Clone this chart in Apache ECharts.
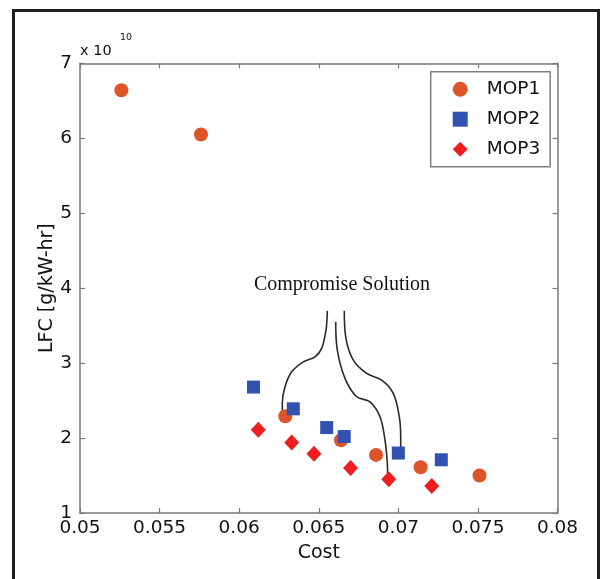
<!DOCTYPE html>
<html>
<head>
<meta charset="utf-8">
<script src="https://cdn.jsdelivr.net/npm/echarts@6/dist/echarts.min.js"></script>
<style>
html,body{margin:0;padding:0;background:#fff;}
#chart{width:601px;height:579px;}
</style>
</head>
<body>
<div id="chart"></div>
<script>
// ---- data (LFC in units of 1e10 g/kW-hr) ----
var seriesNames = ['MOP1', 'MOP2', 'MOP3'];
var mop1Cost = [0.0526, 0.0576, 0.0629, 0.0664, 0.0686, 0.0714, 0.0751];
var mop1LFC  = [6.64, 6.05, 2.29, 1.97, 1.775, 1.61, 1.50];
var mop2Cost = [0.0609, 0.0634, 0.0655, 0.0666, 0.0700, 0.0727];
var mop2LFC  = [2.68, 2.39, 2.14, 2.02, 1.80, 1.71];
var mop3Cost = [0.0612, 0.0633, 0.0647, 0.0670, 0.0694, 0.0721];
var mop3LFC  = [2.11, 1.94, 1.79, 1.60, 1.45, 1.36];
var xTickLabels = ['0.05', '0.055', '0.06', '0.065', '0.07', '0.075', '0.08'];
var yTickLabels = ['1', '2', '3', '4', '5', '6', '7'];
var annotationText = 'Compromise Solution';
// annotation leader curves, in data coordinates [cost, LFC]
var leader1 = [[0.06554,3.697],[0.065455,3.44],[0.065185,3.196],[0.064764,3.084],[0.064029,3.017],[0.0633,2.884],[0.06288,2.684],[0.06271,2.463],[0.06271,2.351]];
var leader2 = [[0.066065,3.551],[0.066166,3.173],[0.066649,2.796],[0.067384,2.551],[0.06822,2.484],[0.068848,2.284],[0.069162,1.973],[0.069307,1.663],[0.069332,1.417]];
var leader3 = [[0.066605,3.697],[0.066693,3.351],[0.067171,3.04],[0.068013,2.863],[0.068955,2.773],[0.069684,2.596],[0.070061,2.284],[0.070149,2.017],[0.070149,1.84]];

function zip(a, b) { return a.map(function (v, i) { return [v, b[i]]; }); }

var FONT = 'DejaVu Sans, Verdana, sans-serif';
var axisCol = '#7a7a7a';
var txtCol = '#111111';
var xMin = 0.05, xMax = 0.08, xInt = 0.005;
var yMin = 1, yMax = 7, yInt = 1;

function xFmt(v) { var i = Math.round((v - xMin) / xInt); return xTickLabels[i] || ''; }
function yFmt(v) { var i = Math.round((v - yMin) / yInt); return yTickLabels[i] || ''; }

var baseAxis = {
  axisLine: { show: true, onZero: false, lineStyle: { color: axisCol, width: 1.5 } },
  axisTick: { show: true, inside: true, length: 5, lineStyle: { color: axisCol, width: 1.2 } },
  splitLine: { show: false }
};

function leaderSeries(pts) {
  return {
    type: 'line', data: pts, smooth: 0.35, symbol: 'none', silent: true,
    lineStyle: { color: '#2a2a2a', width: 1.6 }, z: 1, legendHoverLink: false
  };
}

var chart = echarts.init(document.getElementById('chart'), null, { renderer: 'canvas' });
chart.setOption({
  animation: false,
  backgroundColor: '#ffffff',
  grid: { left: 80, top: 63.3, right: 43.5, bottom: 66, containLabel: false },
  xAxis: [
    Object.assign({}, baseAxis, {
      type: 'value', min: xMin, max: xMax, interval: xInt, position: 'bottom',
      name: 'Cost', nameLocation: 'middle', nameGap: 30.5, nameMoveOverlap: false,
      nameTextStyle: { fontFamily: FONT, fontSize: 19, color: txtCol },
      axisLabel: { formatter: xFmt, fontFamily: FONT, fontSize: 18.5, color: txtCol, margin: 6 }
    }),
    Object.assign({}, baseAxis, {
      type: 'value', min: xMin, max: xMax, interval: xInt, position: 'top',
      axisLabel: { show: false }
    })
  ],
  yAxis: [
    Object.assign({}, baseAxis, {
      type: 'value', min: yMin, max: yMax, interval: yInt, position: 'left',
      name: 'LFC [g/kW-hr]', nameLocation: 'middle', nameGap: 23.5, nameMoveOverlap: false,
      nameTextStyle: { fontFamily: FONT, fontSize: 19, color: txtCol },
      axisLabel: { formatter: yFmt, fontFamily: FONT, fontSize: 18.5, color: txtCol, margin: 8 }
    }),
    Object.assign({}, baseAxis, {
      type: 'value', min: yMin, max: yMax, interval: yInt, position: 'right',
      axisLabel: { show: false }
    })
  ],
  legend: {
    data: seriesNames,
    orient: 'vertical',
    left: 430.7, top: 71.7,
    padding: [8, 10, 8, 22],
    itemWidth: 15, itemHeight: 15, itemGap: 11,
    borderColor: '#808080', borderWidth: 1.5,
    backgroundColor: '#ffffff',
    textStyle: { fontFamily: FONT, fontSize: 18.5, color: txtCol, lineHeight: 15, padding: [0, 0, 0, 14] }
  },
  series: [
    { name: 'MOP1', type: 'scatter', data: zip(mop1Cost, mop1LFC), symbol: 'circle', symbolSize: 14,
      itemStyle: { color: '#DD5428', opacity: 1 }, z: 3 },
    { name: 'MOP2', type: 'scatter', data: zip(mop2Cost, mop2LFC), symbol: 'rect', symbolSize: 13,
      itemStyle: { color: '#3152B0', opacity: 1 }, z: 4 },
    { name: 'MOP3', type: 'scatter', data: zip(mop3Cost, mop3LFC), symbol: 'diamond', symbolSize: [15, 16],
      itemStyle: { color: '#EE1E1E', opacity: 1 }, z: 3 },
    leaderSeries(leader1),
    leaderSeries(leader2),
    leaderSeries(leader3)
  ],
  graphic: [
    { type: 'rect', shape: { x: 13.5, y: 10.5, width: 585, height: 620 },
      style: { fill: 'none', stroke: '#1e1e1e', lineWidth: 3 }, silent: true, z: 10 },
    { type: 'text', x: 80, y: 59,
      style: { text: 'x 10', fontFamily: FONT, fontSize: 14.5, fill: txtCol, verticalAlign: 'bottom' }, silent: true },
    { type: 'text', x: 120, y: 33,
      style: { text: '10', fontFamily: FONT, fontSize: 9.5, fill: txtCol, verticalAlign: 'top' }, silent: true },
    { type: 'text', x: 342, y: 285,
      style: { text: annotationText, fontFamily: 'Liberation Serif, Times New Roman, serif', fontSize: 20,
        fill: '#111', align: 'center', verticalAlign: 'middle' }, silent: true }
  ]
});
</script>
</body>
</html>
